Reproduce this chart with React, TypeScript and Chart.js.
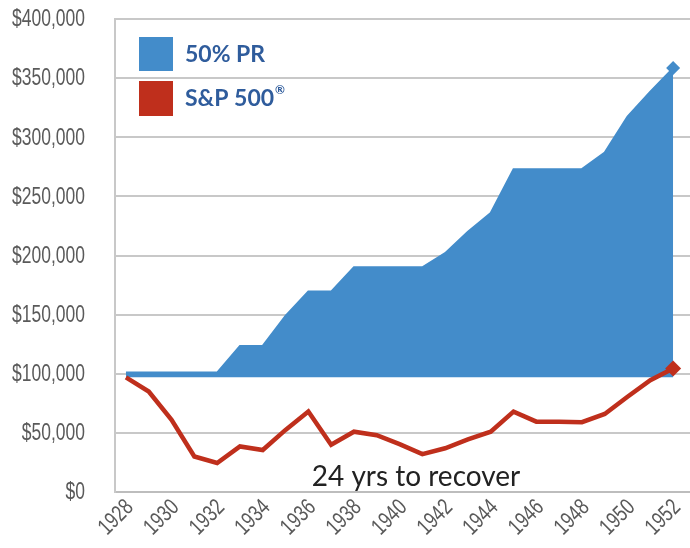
import React, { useEffect, useRef } from "react";
import { Chart, registerables } from "chart.js";

Chart.register(...registerables);

const years = [
  1928, 1929, 1930, 1931, 1932, 1933, 1934, 1935, 1936, 1937, 1938, 1939, 1940,
  1941, 1942, 1943, 1944, 1945, 1946, 1947, 1948, 1949, 1950, 1951, 1952,
];
const prValues = [
  101000, 101000, 101000, 101000, 101000, 123500, 123500, 149000, 169500, 169500,
  190000, 190000, 190000, 190000, 202000, 220000, 236000, 273000, 273000, 273000,
  273000, 287000, 317500, 338500, 358500,
];
const spValues = [
  97000, 85000, 61000, 30000, 24500, 38500, 35500, 52500, 68000, 40000, 51000,
  48000, 40500, 32000, 37000, 44500, 51000, 68000, 59500, 59500, 59000, 66000,
  80500, 94500, 104500,
];
const xTickYears = [1928, 1930, 1932, 1934, 1936, 1938, 1940, 1942, 1944, 1946, 1948, 1950, 1952];
const yTickValues = [0, 50000, 100000, 150000, 200000, 250000, 300000, 350000, 400000];
const seriesLabels = ["50% PR", "S&P 500"];
const registeredMark = "®";
const annotationText = "24 yrs to recover";
const fillBaseline = 97000;

const BLUE = "#438CCA";
const RED = "#BF2F1C";
const LEGEND_TEXT = "#2F5C9C";
const TICK_COLOR = "#5A5A5A";
const TICK_FONT = "23px 'Liberation Sans', Arial, sans-serif";
const CONDENSE = 0.76;

const fmtY = (v: number) => "$" + Number(v).toLocaleString("en-US");

export default function App() {
  const canvasRef = useRef<HTMLCanvasElement | null>(null);

  useEffect(() => {
    const canvas = canvasRef.current;
    if (!canvas) return;
    const lastOnly = (r: number) => years.map((_, i) => (i === years.length - 1 ? r : 0));

    const tickLabels = {
      id: "tickLabels",
      afterDraw(chart: any) {
        const { ctx } = chart;
        const x = chart.scales.x;
        const y = chart.scales.y;
        ctx.save();
        ctx.fillStyle = TICK_COLOR;
        ctx.font = TICK_FONT;
        ctx.textAlign = "right";
        ctx.textBaseline = "middle";
        y.ticks.forEach((t: any) => {
          const py = y.getPixelForValue(t.value);
          ctx.save();
          ctx.translate(y.right - 30, py + 1);
          ctx.scale(CONDENSE, 1);
          ctx.fillText(fmtY(t.value), 0, 0);
          ctx.restore();
        });
        x.ticks.forEach((t: any) => {
          const px = x.getPixelForValue(t.value);
          ctx.save();
          ctx.translate(px + 4, x.top + 12);
          ctx.rotate(-Math.PI / 4);
          ctx.scale(CONDENSE, 1);
          ctx.fillText(String(t.value), 0, 0);
          ctx.restore();
        });
        ctx.restore();
      },
    };

    const overlay = {
      id: "overlay",
      afterDraw(chart: any) {
        const { ctx, chartArea } = chart;
        ctx.save();
        const lx = chartArea.left + 24;
        const ly = chartArea.top + 18;
        const box = 34;
        const colors = [BLUE, RED];
        ctx.textBaseline = "middle";
        ctx.textAlign = "left";
        colors.forEach((c, i) => {
          const top = ly + i * 44;
          ctx.fillStyle = c;
          ctx.fillRect(lx, top, box, box + (i === 1 ? 1 : 0));
          ctx.fillStyle = LEGEND_TEXT;
          ctx.font = "bold 23px Lato, 'Open Sans', sans-serif";
          const tx = lx + 46;
          const ty = top + box / 2 + 1;
          ctx.fillText(seriesLabels[i], tx, ty);
          if (i === 1) {
            const w = ctx.measureText(seriesLabels[i]).width;
            ctx.font = "bold 12px Lato, 'Open Sans', sans-serif";
            ctx.fillText(registeredMark, tx + w + 1, ty - 9);
          }
        });
        ctx.fillStyle = "#222222";
        ctx.font = "28px Lato, 'Noto Sans', sans-serif";
        ctx.textAlign = "center";
        ctx.textBaseline = "alphabetic";
        ctx.fillText(annotationText, chartArea.left + 301, chartArea.bottom - 6);
        ctx.restore();
      },
    };

    const chart = new Chart(canvas, {
      type: "line",
      data: {
        datasets: [
          {
            label: seriesLabels[1],
            data: years.map((x, i) => ({ x, y: spValues[i] })),
            borderColor: RED,
            backgroundColor: RED,
            borderWidth: 4.5,
            fill: false,
            tension: 0,
            pointRadius: lastOnly(8),
            pointStyle: "rectRot",
            pointBorderWidth: 0,
            order: 0,
          },
          {
            label: seriesLabels[0],
            data: years.map((x, i) => ({ x, y: prValues[i] })),
            borderColor: BLUE,
            backgroundColor: BLUE,
            borderWidth: 2,
            fill: { value: fillBaseline },
            tension: 0,
            pointRadius: lastOnly(7),
            pointStyle: "rectRot",
            pointBorderWidth: 0,
            order: 1,
          },
        ],
      },
      options: {
        responsive: false,
        animation: false,
        layout: { autoPadding: false, padding: { top: 19, right: 0, left: 0, bottom: 0 } },
        plugins: {
          legend: { display: false },
          tooltip: { enabled: false },
          title: { display: false },
        },
        scales: {
          x: {
            type: "linear",
            min: 1927.52,
            max: 1952.74,
            grid: { display: false },
            border: { display: true, color: "#BDBDBD", width: 2 },
            afterBuildTicks: (scale: any) => {
              scale.ticks = xTickYears.map((v) => ({ value: v }));
            },
            afterFit: (scale: any) => {
              scale.height = 56;
              scale.paddingLeft = 0;
              scale.paddingRight = 0;
            },
            ticks: { display: false },
          },
          y: {
            min: 0,
            max: 400000,
            afterBuildTicks: (scale: any) => {
              scale.ticks = yTickValues.map((v) => ({ value: v }));
            },
            afterFit: (scale: any) => {
              scale.width = 115;
              scale.paddingTop = 0;
              scale.paddingBottom = 0;
            },
            grid: { color: "#C8C8C8", lineWidth: 2, drawTicks: false },
            border: { display: true, color: "#C8C8C8", width: 2 },
            ticks: { display: false },
          },
        },
      },
      plugins: [overlay, tickLabels],
    } as any);

    return () => chart.destroy();
  }, []);

  return (
    <div style={{ position: "fixed", left: 0, top: 0, width: 690, height: 548, background: "#fff" }}>
      <canvas ref={canvasRef} width={690} height={548} />
    </div>
  );
}
